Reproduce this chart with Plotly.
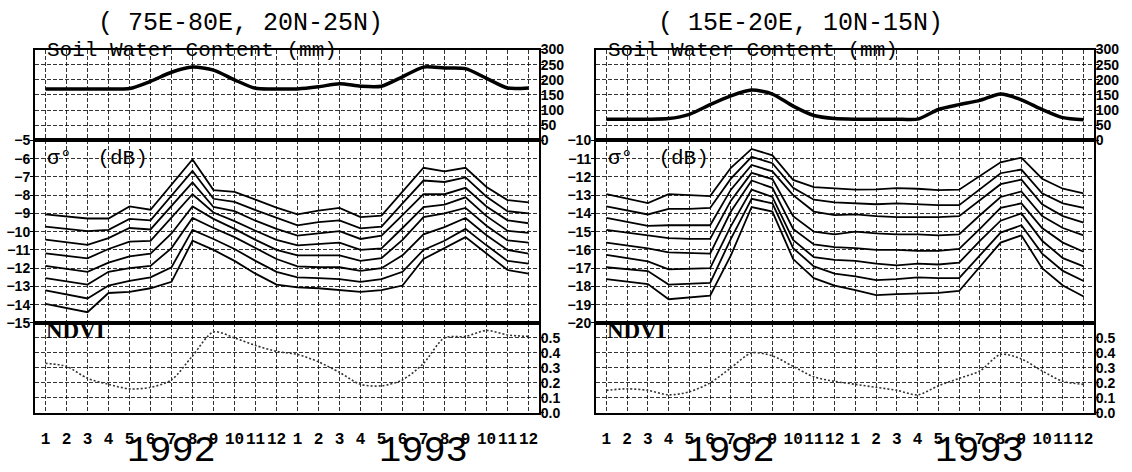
import plotly.graph_objects as go

W, H = 1132, 472

months = list(range(1, 25))
month_labels = [str(m) for m in range(1, 13)] * 2
year_labels = ["1992", "1993"]
year_months = [7, 19]

titles = ["( 75E-80E, 20N-25N)", "( 15E-20E, 10N-15N)"]

# Soil water content (mm)
soil_left = [170, 170, 170, 170, 171, 195, 225, 242, 232, 200, 172, 170,
             170, 177, 187, 179, 179, 210, 242, 239, 237, 205, 173, 173]
soil_right = [70, 70, 70, 72, 86, 118, 147, 166, 153, 113, 82, 72,
              70, 70, 70, 70, 102, 118, 132, 153, 134, 102, 75, 68]

# sigma0 (dB), left region, 8 curves
sig_l1 = [-9.05, -9.17, -9.28, -9.28, -8.62, -8.8, -7.4, -6.05, -7.72, -7.82, -8.25, -8.68,
          -9.05, -8.85, -8.7, -9.2, -9.12, -7.8, -6.5, -6.7, -6.5, -7.55, -8.27, -8.4]
sig_l2 = [-9.73, -9.85, -9.97, -9.9, -9.3, -9.38, -8.0, -6.67, -8.2, -8.37, -8.82, -9.25,
          -9.65, -9.48, -9.38, -9.82, -9.72, -8.45, -7.2, -7.28, -7.03, -8.09, -8.88, -9.0]
sig_l3 = [-10.44, -10.58, -10.72, -10.35, -9.8, -9.88, -8.6, -7.3, -8.65, -8.88, -9.4, -9.85,
          -10.22, -10.1, -9.97, -10.4, -10.22, -9.1, -7.95, -7.95, -7.6, -8.62, -9.38, -9.54]
sig_l4 = [-11.19, -11.32, -11.46, -10.95, -10.55, -10.5, -9.25, -7.95, -8.95, -9.42, -9.95, -10.45,
          -10.75, -10.68, -10.6, -11.0, -10.92, -9.8, -8.65, -8.52, -8.12, -9.15, -9.95, -10.07]
sig_l5 = [-11.87, -12.03, -12.2, -11.7, -11.35, -11.2, -10.1, -8.62, -9.3, -9.85, -10.45, -11.0,
          -11.3, -11.3, -11.3, -11.6, -11.45, -10.45, -9.2, -9.0, -8.7, -9.68, -10.48, -10.6]
sig_l6 = [-12.55, -12.72, -12.9, -12.2, -12.0, -11.88, -10.9, -9.25, -9.8, -10.3, -10.9, -11.5,
          -11.9, -11.95, -11.95, -12.15, -12.0, -11.3, -10.15, -9.75, -9.25, -10.2, -11.0, -11.2]
sig_l7 = [-13.22, -13.44, -13.66, -12.95, -12.7, -12.5, -11.95, -9.9, -10.4, -10.95, -11.6, -12.2,
          -12.5, -12.55, -12.6, -12.75, -12.6, -12.2, -11.0, -10.5, -9.85, -10.75, -11.6, -11.75]
sig_l8 = [-13.96, -14.2, -14.41, -13.36, -13.3, -13.1, -12.75, -10.5, -11.0, -11.6, -12.3, -12.9,
          -13.05, -13.1, -13.2, -13.3, -13.2, -12.95, -11.5, -10.9, -10.3, -11.2, -12.1, -12.3]

# sigma0 (dB), right region, 8 curves
sig_r1 = [-12.95, -13.2, -13.44, -12.95, -13.0, -13.05, -11.5, -10.47, -10.82, -12.17, -12.56, -12.65,
          -12.7, -12.68, -12.62, -12.65, -12.72, -12.7, -11.95, -11.2, -10.95, -12.1, -12.65, -12.9]
sig_r2 = [-13.62, -13.84, -14.06, -13.75, -13.75, -13.7, -12.1, -10.9, -11.25, -12.6, -13.25, -13.4,
          -13.45, -13.5, -13.45, -13.5, -13.55, -13.55, -12.7, -11.8, -11.6, -12.9, -13.45, -13.7]
sig_r3 = [-14.24, -14.46, -14.68, -14.65, -14.65, -14.65, -12.7, -11.35, -11.7, -13.0, -13.9, -14.1,
          -14.05, -14.15, -14.2, -14.2, -14.2, -14.15, -13.3, -12.4, -12.15, -13.5, -14.15, -14.5]
sig_r4 = [-14.9, -15.05, -15.21, -15.35, -15.4, -15.4, -13.3, -11.78, -12.12, -14.15, -15.0, -15.15,
          -15.0, -15.1, -15.15, -15.15, -15.2, -15.15, -14.1, -13.1, -12.8, -14.15, -14.8, -15.2]
sig_r5 = [-15.6, -15.76, -15.92, -16.13, -16.18, -16.2, -13.9, -12.2, -12.6, -14.85, -15.7, -15.85,
          -15.9, -16.0, -16.0, -16.05, -16.05, -15.95, -14.85, -13.7, -13.45, -14.8, -15.6, -16.1]
sig_r6 = [-16.27, -16.45, -16.63, -17.07, -17.03, -17.0, -14.7, -12.7, -13.1, -15.45, -16.4, -16.55,
          -16.6, -16.75, -16.85, -16.75, -16.8, -16.7, -15.5, -14.4, -14.0, -15.5, -16.45, -16.9]
sig_r7 = [-16.95, -17.05, -17.16, -17.9, -17.85, -17.8, -15.4, -13.2, -13.45, -15.9, -16.9, -17.3,
          -17.45, -17.65, -17.6, -17.5, -17.55, -17.55, -16.3, -15.05, -14.65, -16.2, -17.15, -17.7]
sig_r8 = [-17.6, -17.73, -17.87, -18.7, -18.6, -18.5, -16.3, -13.65, -13.9, -16.5, -17.55, -17.95,
          -18.2, -18.48, -18.42, -18.38, -18.35, -18.25, -16.9, -15.6, -15.2, -17.0, -17.95, -18.55]

# NDVI
ndvi_left = [0.33, 0.31, 0.23, 0.19, 0.16, 0.17, 0.22, 0.38, 0.54, 0.50, 0.45, 0.41,
             0.39, 0.34, 0.27, 0.19, 0.18, 0.22, 0.33, 0.50, 0.51, 0.55, 0.52, 0.51]
ndvi_right = [0.15, 0.16, 0.15, 0.12, 0.14, 0.20, 0.30, 0.40, 0.38, 0.31, 0.24, 0.21,
              0.19, 0.17, 0.15, 0.12, 0.18, 0.23, 0.28, 0.39, 0.36, 0.28, 0.21, 0.19]

soil_ticks = [0, 50, 100, 150, 200, 250, 300]
ndvi_ticks = [0.0, 0.1, 0.2, 0.3, 0.4, 0.5]
ndvi_ticktext = ["0.0", "0.1", "0.2", "0.3", "0.4", "0.5"]
sig_ticks_left = list(range(-15, -4))
sig_ticks_right = list(range(-20, -9))

# ---------------- layout geometry (pixels) ----------------
def px_x(a, b):
    return [a / W, b / W]

def px_y(top, bottom):
    return [1 - bottom / H, 1 - top / H]

col_x = [px_x(35, 539), px_x(596, 1094)]
row_soil = px_y(43, 137)
row_sig = px_y(137, 326)
row_ndvi = px_y(326, 419)

fig = go.Figure()

GRID = dict(showgrid=True, gridcolor="rgba(0,0,0,0.8)", gridwidth=1, griddash="4px,2px")
LINE = dict(showline=True, linecolor="black", linewidth=2, mirror=True, zeroline=False)
TICKFONT = dict(family="Liberation Sans", size=14, color="black", weight="bold")

layout = {}
sig_sets = [
    [sig_l1, sig_l2, sig_l3, sig_l4, sig_l5, sig_l6, sig_l7, sig_l8],
    [sig_r1, sig_r2, sig_r3, sig_r4, sig_r5, sig_r6, sig_r7, sig_r8],
]
soils = [soil_left, soil_right]
ndvis = [ndvi_left, ndvi_right]
sig_ranges = [[-15, -5], [-20, -10]]
sig_tickvals = [sig_ticks_left, sig_ticks_right]

for c in range(2):
    base = c * 3
    ax_s, ax_g, ax_n = base + 1, base + 2, base + 3
    for k in [ax_s, ax_g, ax_n]:
        xa = dict(domain=col_x[c], range=[0.5, 24.5], tickmode="array", tickvals=months,
                  anchor=f"y{k}", **GRID, **LINE)
        if k == ax_n:
            xa.update(ticktext=month_labels, showticklabels=True, ticks="", tickangle=0,
                      ticklabelstandoff=10,
                      tickfont=dict(family="Liberation Mono", size=16, color="black", weight="bold"))
        else:
            xa.update(showticklabels=False, ticks="")
        layout[f"xaxis{k}"] = xa

    right_common = dict(side="right", ticks="outside", ticklen=3, tickcolor="black",
                        ticklabelstandoff=-6, tickfont=TICKFONT)
    layout[f"yaxis{ax_s}"] = dict(domain=row_soil, range=[0, 300],
                                  tickmode="array", tickvals=soil_ticks, anchor=f"x{ax_s}",
                                  **right_common, **GRID, **LINE)
    layout[f"yaxis{ax_g}"] = dict(domain=row_sig, range=sig_ranges[c], side="left",
                                  tickmode="array", tickvals=sig_tickvals[c], anchor=f"x{ax_g}",
                                  ticks="outside", ticklen=3, tickcolor="black",
                                  ticklabelstandoff=-3,
                                  tickfont=TICKFONT, **GRID, **LINE)
    layout[f"yaxis{ax_n}"] = dict(domain=row_ndvi, range=[0, 0.6],
                                  tickmode="array", tickvals=ndvi_ticks, ticktext=ndvi_ticktext,
                                  anchor=f"x{ax_n}",
                                  **right_common, **GRID, **LINE)

    fig.add_trace(go.Scatter(x=months, y=soils[c], mode="lines",
                             line=dict(color="black", width=3.5, shape="spline", smoothing=0.7),
                             xaxis=f"x{ax_s}", yaxis=f"y{ax_s}", showlegend=False))
    for s in sig_sets[c]:
        fig.add_trace(go.Scatter(x=months, y=s, mode="lines",
                                 line=dict(color="black", width=1.8),
                                 xaxis=f"x{ax_g}", yaxis=f"y{ax_g}", showlegend=False))
    fig.add_trace(go.Scatter(x=months, y=ndvis[c], mode="lines",
                             line=dict(color="#333333", width=1.6, dash="2px,2px",
                                       shape="spline", smoothing=0.8),
                             xaxis=f"x{ax_n}", yaxis=f"y{ax_n}", showlegend=False))

annotations = []
title_centers = [240, 800]
for c in range(2):
    x0 = col_x[c][0]
    annotations.append(dict(text=titles[c], xref="paper", yref="paper",
                            x=title_centers[c] / W, y=1 - 16 / H, xanchor="center", yanchor="middle",
                            showarrow=False,
                            font=dict(family="Liberation Mono", size=25, color="black")))
    annotations.append(dict(text="Soil Water Content (mm)", xref="paper", yref="paper",
                            x=x0 + 10 / W, y=1 - 44 / H, xanchor="left", yanchor="middle",
                            showarrow=False,
                            font=dict(family="Liberation Mono", size=21, color="black")))
    annotations.append(dict(text="σ°  (dB)", xref="paper", yref="paper",
                            x=x0 + 10 / W, y=1 - 156 / H, xanchor="left", yanchor="middle",
                            showarrow=False,
                            font=dict(family="Liberation Mono", size=21, color="black")))
    annotations.append(dict(text="NDVI", xref="paper", yref="paper",
                            x=x0 + 9 / W, y=1 - 334 / H, xanchor="left", yanchor="middle",
                            showarrow=False,
                            font=dict(family="Liberation Serif", size=23, color="black",
                                      weight="bold")))
    for yl, ym in zip(year_labels, year_months):
        annotations.append(dict(text=yl, xref=f"x{c * 3 + 3}", yref="paper",
                                x=ym, y=1 - 459 / H, xanchor="center", yanchor="middle",
                                showarrow=False,
                                font=dict(family="Liberation Mono", size=37, color="black")))

fig.update_layout(width=W, height=H, margin=dict(l=0, r=0, t=0, b=0),
                  paper_bgcolor="white", plot_bgcolor="white",
                  annotations=annotations, **layout)

fig.write_html("out.html", config={"displayModeBar": False},
               post_script="document.body.style.margin='0';document.body.style.padding='0';")
